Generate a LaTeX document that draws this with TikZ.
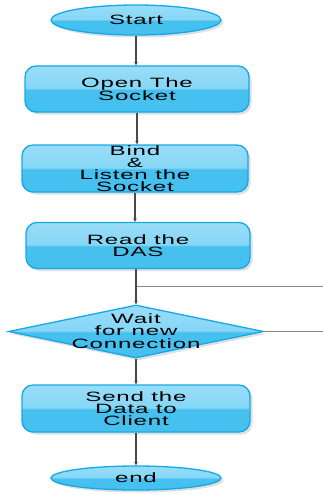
\documentclass[tikz,border=0pt]{standalone}
\usepackage{fontspec}
\newfontfamily\labfont[FakeStretch=1.78,LetterSpace=6]{Liberation Sans}
\usetikzlibrary{shapes.geometric,shadows,arrows.meta}
\definecolor{bord}{HTML}{14A9E6}
\definecolor{gtop}{HTML}{C6EEFC}
\definecolor{gmid}{HTML}{86D6F6}
\definecolor{glow}{HTML}{45C0EF}
\definecolor{gbot}{HTML}{5ACAF3}
\definecolor{lnk}{HTML}{4A4A4A}
\definecolor{lnklight}{HTML}{8A8A8A}
\pgfdeclareverticalshading{glossy}{100bp}{color(0bp)=(gbot); color(25bp)=(glow); color(49bp)=(glow); color(51bp)=(gmid); color(75bp)=(gmid!70!gtop); color(100bp)=(gtop)}
\tikzset{
  base/.style={draw=bord, line width=1.3pt, shading=glossy, inner sep=0pt,
    drop shadow={opacity=0.25, shadow xshift=2.5pt, shadow yshift=-2.5pt},
    font=\labfont\fontsize{13.5}{12.2}\selectfont, align=center},
  term/.style={base, ellipse, minimum width=170pt, minimum height=30pt},
  proc/.style={base, rectangle, rounded corners=11pt, minimum width=224pt, minimum height=46pt},
  decis/.style={base, diamond, minimum width=255pt, minimum height=53pt},
  txt/.style={inner sep=0pt, font=\labfont\fontsize{13.5}{12.2}\selectfont, align=center},
  flow/.style={draw=lnk, line width=1.3pt, -{Stealth[length=3.5pt,width=3.5pt]}},
  back/.style={draw=lnklight, line width=1pt}
}
\begin{document}
\begin{tikzpicture}[x=1pt,y=-1pt]
\useasboundingbox (0,0) rectangle (323,495);
\node[term] (start) at (136,20) {Start};
\node[proc] (open) at (137,89) {Open The\\Socket};
\node[proc, minimum width=226pt, minimum height=47pt] (bind) at (135,168.5) {Bind\\\&\\Listen the\\Socket};
\node[proc] (read) at (138,245.5) {Read the\\DAS};
\node[decis] (wait) at (136,331.5) {};
\node[txt] (waitt) at (136,331) {Wait\\for new\\Connection};
\node[proc, minimum width=228pt, minimum height=47pt] (send) at (136,408.5) {Send the\\Data to\\Client};
\node[term, minimum height=24pt] (end) at (136,478) {end};
\coordinate (loopin) at (323,286);
\coordinate (loopout) at (323,331.5);
\draw[flow] (start) -- (start |- open.north);
\draw[flow] (open) -- (open |- bind.north);
\draw[flow] (bind) -- (bind |- read.north);
\draw[flow] (read.south -| 136,0) -- (wait.north);
\draw[back] (loopin) -- (loopin -| 137,0);
\draw[back] (wait.east) -- (loopout);
\draw[flow] (wait.south) -- (send.north -| wait.south);
\draw[flow] (send.south -| end) -- (end.north);
\end{tikzpicture}
\end{document}
